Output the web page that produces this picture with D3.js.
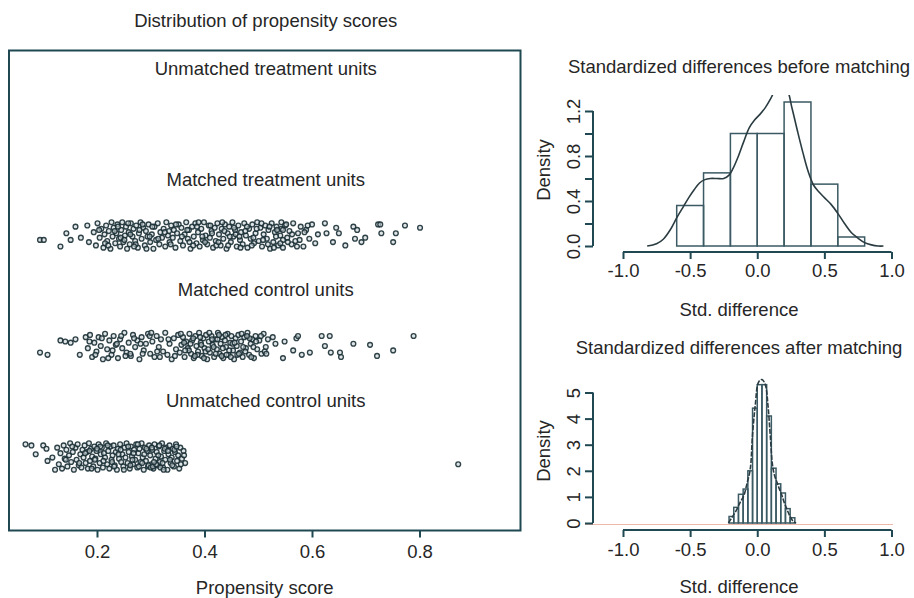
<!DOCTYPE html>
<html><head><meta charset="utf-8">
<script src="https://cdn.jsdelivr.net/npm/d3@7"></script>
<style>
body{margin:0;background:#fff;}
text{font-family:"Liberation Sans",Arial,Helvetica,sans-serif;fill:#262626;font-size:18.5px;}
</style>
</head><body>
<svg id="c" width="914" height="598"></svg>
<script>
// ---------- DATA ----------
const mainTitle = "Distribution of propensity scores";
const rowLabels = ["Unmatched control units","Matched control units","Matched treatment units","Unmatched treatment units"];
const scoreTicks = [0.2,0.4,0.6,0.8];

// [propensity score, vertical jitter in hundredths of a row]
const matchedTreatment = [
[0.094,-4],[0.101,-4],[0.132,-10],[0.143,2],[0.151,-4],[0.160,8],[0.170,-2],[0.182,9],[0.185,-6],
[0.194,3],[0.198,-9],[0.201,11],[0.205,-2],[0.208,6],[0.212,-11],[0.214,1],[0.217,9],[0.219,-5],[0.222,4],
[0.225,-12],[0.227,12],[0.229,-1],[0.231,7],[0.234,-7],[0.236,2],[0.238,10],[0.241,-3],[0.243,-10],[0.245,5],
[0.247,12],[0.249,-6],[0.252,0],[0.254,8],[0.256,-12],[0.259,3],[0.261,-8],[0.263,11],[0.266,-1],[0.268,6],
[0.271,-5],[0.273,9],[0.276,-11],[0.278,2],[0.281,12],[0.283,-3],[0.286,7],[0.289,-9],[0.291,4],[0.294,-1],
[0.296,10],[0.299,-6],[0.302,1],[0.305,-12],[0.307,8],[0.310,-4],[0.313,11],[0.316,-8],[0.318,3],[0.321,-2],
[0.324,6],[0.327,-10],[0.329,12],[0.332,0],[0.335,-6],[0.338,9],[0.341,-2],[0.343,5],[0.346,-11],[0.349,2],
[0.352,10],[0.355,-5],[0.357,7],[0.360,-9],[0.363,1],[0.366,12],[0.369,-3],[0.371,5],[0.374,-12],[0.377,8],
[0.380,-1],[0.383,11],[0.385,-7],[0.388,3],[0.391,-10],[0.394,6],[0.397,-4],[0.399,12],[0.402,0],[0.405,-8],
[0.408,9],[0.410,-2],[0.413,4],[0.416,-11],[0.419,7],[0.421,-5],[0.424,11],[0.427,1],[0.430,-9],[0.432,6],
[0.435,-3],[0.438,10],[0.441,-12],[0.443,2],[0.446,8],[0.449,-6],[0.452,12],[0.454,-1],[0.457,5],[0.460,-10],
[0.463,9],[0.466,-4],[0.468,3],[0.471,-8],[0.474,11],[0.477,0],[0.480,-11],[0.483,6],[0.486,-3],[0.489,10],
[0.492,-7],[0.495,2],[0.498,12],[0.501,-5],[0.504,7],[0.507,-10],[0.510,1],[0.513,9],[0.516,-3],[0.519,5],
[0.522,-12],[0.525,11],[0.528,-6],[0.531,3],[0.534,8],[0.537,-9],[0.541,0],[0.543,12],[0.546,-4],[0.543,6],
[0.546,-11],[0.550,9],[0.554,-2],[0.558,4],[0.562,-8],[0.565,11],[0.569,-5],[0.574,2],[0.579,8],[0.584,-10],
[0.589,5],[0.595,-3],[0.600,10],[0.606,-7],[0.611,1],
[0.215,-7],[0.233,4],[0.244,-2],[0.262,1],[0.272,-8],[0.285,10],[0.298,-1],[0.334,4],[0.372,-6],[0.386,8],
[0.396,-1],[0.411,9],[0.422,-9],[0.437,4],[0.447,-1],[0.458,1],[0.467,-11],[0.479,8],[0.491,-2],[0.506,11],
[0.518,-8],[0.533,-1],[0.546,5],[0.555,-6],[0.577,-4],[0.592,9],
[0.204,5],[0.221,-9],[0.239,8],[0.251,-4],[0.258,11],[0.269,-10],[0.279,5],[0.292,-12],[0.303,8],[0.314,-3],
[0.326,3],[0.337,-8],[0.347,10],[0.358,-1],[0.368,5],[0.379,-9],[0.389,12],[0.401,-6],[0.414,2],[0.426,-6],
[0.433,12],[0.444,-9],[0.455,7],[0.465,-1],[0.476,4],[0.488,-9],[0.497,6],[0.509,-4],[0.521,8],[0.529,-11],
[0.535,5],[0.541,-7],[0.552,10],[0.563,1],[0.572,-10],[0.586,3],
[0.624,11],[0.627,2],[0.639,-6],[0.645,7],[0.650,2],[0.662,-9],[0.677,8],[0.680,-3],[0.684,5],[0.692,-6],
[0.699,-2],[0.723,10],[0.727,10],[0.729,2],[0.751,-6],[0.756,2],[0.773,9],[0.801,7]
];
const matchedControl = [
[0.094,-6],[0.108,-8],[0.132,5],[0.141,4],[0.151,3],[0.160,6],[0.168,-8],[0.179,8],
[0.183,-2],[0.187,10],[0.191,-10],[0.195,3],[0.199,-5],[0.203,8],[0.207,0],[0.211,-12],[0.215,11],[0.219,-3],
[0.223,5],[0.227,-8],[0.231,9],[0.235,1],[0.239,-11],[0.243,6],[0.247,-2],[0.251,12],[0.255,-6],[0.259,3],
[0.263,-9],[0.267,10],[0.271,-1],[0.275,5],[0.279,-12],[0.283,8],[0.287,-4],[0.291,2],[0.295,11],[0.299,-7],
[0.303,4],[0.307,-10],[0.311,9],[0.315,-1],[0.319,6],[0.323,-5],[0.327,12],[0.331,-8],[0.335,2],[0.339,-12],
[0.343,7],[0.347,-3],[0.351,10],[0.354,-6],[0.357,1],[0.360,8],[0.363,-10],[0.366,4],[0.369,-2],[0.372,11],
[0.375,-7],[0.377,5],[0.380,-11],[0.383,9],[0.385,0],[0.388,-5],[0.390,12],[0.393,3],[0.395,-9],[0.398,7],
[0.400,-2],[0.403,10],[0.405,-12],[0.408,4],[0.410,-6],[0.413,9],[0.415,1],[0.418,-10],[0.420,6],[0.423,-3],
[0.425,12],[0.428,-7],[0.430,2],[0.433,8],[0.435,-11],[0.438,5],[0.440,-1],[0.443,11],[0.445,-8],[0.448,3],
[0.450,9],[0.453,-4],[0.455,-12],[0.458,7],[0.460,0],[0.463,10],[0.466,-6],[0.468,4],[0.471,-10],[0.474,8],
[0.477,-2],[0.480,12],[0.483,-8],[0.486,2],[0.489,6],[0.492,-11],[0.495,9],[0.498,-3],[0.502,5],[0.506,-7],
[0.510,11],[0.514,-1],
[0.362,3],[0.371,-4],[0.379,7],[0.387,-8],[0.394,1],[0.402,-5],[0.409,12],[0.417,-1],[0.424,6],[0.432,-9],
[0.439,10],[0.446,-4],[0.452,2],[0.461,-8],[0.469,11],[0.476,-5],[0.484,7],[0.491,-1],[0.229,-4],[0.245,9],
[0.262,-7],[0.281,2],[0.298,9],[0.312,-5],
[0.186,4],[0.197,-8],[0.209,7],[0.221,-11],[0.237,2],[0.253,-9],[0.269,7],[0.285,-7],[0.301,12],[0.317,-10],
[0.333,6],[0.345,-9],[0.356,11],[0.364,-4],[0.374,2],[0.382,-9],[0.392,8],[0.399,-11],[0.407,-3],[0.414,6],
[0.421,-7],[0.427,10],[0.434,-2],[0.441,-8],[0.449,-10],[0.456,3],[0.464,-7],[0.472,-1],[0.479,9],[0.487,-10],
[0.496,4],[0.505,9],[0.512,-5],[0.518,6],
[0.515,-7],[0.527,8],[0.532,2],[0.546,-11],[0.549,4],[0.565,-4],[0.571,7],[0.574,9],[0.581,-8],[0.596,-6],
[0.618,9],[0.624,0],[0.633,9],[0.635,-6],[0.652,-6],[0.654,-10],[0.677,2],[0.708,1],[0.721,-9],[0.751,-4],[0.789,9]
];
const unmatchedControl = [
[0.067,11],[0.078,10],[0.086,2],[0.100,10],[0.106,7],[0.108,-4],[0.117,-1],[0.122,-12],[0.126,8],[0.129,-7],
[0.132,3],[0.135,-11],[0.138,10],[0.140,-2],[0.143,6],[0.145,-9],[0.148,1],[0.150,12],[0.152,-5],[0.155,4],
[0.157,-12],[0.160,8],[0.162,-3],[0.164,11],[0.166,-8],[0.169,2],[0.171,-10],[0.173,6],[0.175,-1],[0.177,10],
[0.179,-6],[0.181,4],[0.183,-11],[0.185,12],[0.187,-4],[0.189,7],[0.191,0],[0.193,-9],[0.195,9],[0.197,-2],
[0.199,5],[0.201,-12],[0.203,11],[0.205,-6],[0.207,2],[0.209,8],[0.211,-10],[0.213,3],[0.215,-1],[0.217,12],
[0.219,-7],[0.221,5],[0.223,-11],[0.225,9],[0.227,-3],[0.229,1],[0.231,10],[0.233,-8],[0.235,4],[0.237,-12],
[0.239,7],[0.241,-2],[0.243,11],[0.245,-5],[0.247,2],[0.249,-9],[0.251,8],[0.253,-1],[0.255,12],[0.257,-6],
[0.259,4],[0.261,-11],[0.263,9],[0.265,0],[0.267,-7],[0.269,6],[0.271,-3],[0.273,11],[0.275,-10],[0.277,3],
[0.279,7],[0.281,-5],[0.283,12],[0.285,-1],[0.287,-12],[0.289,8],[0.291,-4],[0.293,5],[0.295,-9],[0.297,10],
[0.299,1],[0.301,-7],[0.303,6],[0.305,-11],[0.307,11],[0.309,-2],[0.311,4],[0.313,-8],[0.315,9],[0.317,-5],
[0.319,0],[0.321,12],[0.323,-10],[0.325,5],[0.327,-3],[0.329,8],[0.331,-12],[0.333,2],[0.335,10],[0.337,-6],
[0.339,-1],[0.341,7],[0.343,-9],[0.345,4],[0.347,11],[0.349,-4],[0.351,1],[0.353,-11],[0.355,8],[0.358,-2],
[0.361,5],[0.364,-6],
[0.296,-8],[0.300,-10],[0.304,-9],[0.310,-7],[0.318,-10],[0.322,-6],[0.186,5],[0.196,-3],[0.206,9],[0.228,-5],
[0.244,6],[0.262,-8],[0.268,3],[0.278,-9],[0.288,2],[0.302,8],[0.314,1],[0.326,7],[0.336,-3],[0.344,6],
[0.142,-3],[0.154,9],[0.167,-6],[0.178,3],[0.190,-11],[0.200,7],[0.212,-4],[0.220,10],[0.232,-9],[0.240,2],
[0.250,-12],[0.258,9],[0.266,-3],[0.276,11],[0.284,-6],[0.292,7],[0.306,-5],[0.316,10],[0.324,-12],[0.332,5],
[0.340,-8],[0.348,9],[0.356,-7],[0.362,1],
[0.872,-7]
];

const beforeTitle = "Standardized differences before matching";
const afterTitle = "Standardized differences after matching";
const diffTicks = [-1,-0.5,0,0.5,1];
const beforeBreaks = [-0.6,-0.4,-0.2,0,0.2,0.4,0.6,0.8];
const beforeDensity = [0.36,0.65,1.0,1.0,1.28,0.55,0.08];
const beforeCurveX = [-0.82,-0.75,-0.70,-0.65,-0.60,-0.55,-0.51,-0.47,-0.43,-0.39,-0.35,-0.30,-0.25,-0.21,-0.18,-0.14,-0.10,-0.06,-0.02,0.02,0.06,0.10,0.14,0.18,0.22,0.26,0.30,0.34,0.38,0.42,0.46,0.50,0.55,0.60,0.65,0.70,0.75,0.80,0.85,0.90,0.94];
const beforeCurveY = [0.0,0.02,0.06,0.14,0.25,0.35,0.43,0.50,0.56,0.59,0.60,0.60,0.60,0.63,0.69,0.80,0.93,1.05,1.12,1.17,1.23,1.31,1.40,1.44,1.40,1.22,1.02,0.83,0.66,0.54,0.48,0.43,0.37,0.29,0.20,0.12,0.07,0.03,0.01,0.0,0.0];
const beforeYTicks = [0,0.2,0.4,0.6,0.8,1.0,1.2];
const beforeYLabels = [0,0.4,0.8,1.2];

const afterBreaks = [-0.21,-0.175,-0.14,-0.105,-0.07,-0.035,0,0.035,0.07,0.105,0.14,0.175,0.21,0.245,0.28];
const afterDensity = [0.25,0.6,1.1,1.3,2.0,4.4,5.3,5.3,4.1,2.1,1.5,1.15,0.55,0.2];
const afterCurveX = [-0.215,-0.19,-0.164,-0.127,-0.10,-0.077,-0.052,-0.035,-0.015,0.01,0.035,0.06,0.08,0.097,0.114,0.13,0.147,0.165,0.184,0.20,0.22,0.245,0.27,0.29];
const afterCurveY = [0,0.2,0.41,0.79,1.05,1.5,2.07,3.4,4.5,5.4,5.5,5.3,4.5,3.35,2.2,1.8,1.56,1.3,1.05,0.8,0.54,0.25,0.05,0];
const afterYTicks = [0,1,2,3,4,5];

// ---------- DRAW ----------
const svg = d3.select("#c");
const AX = "#1f4852";
const BAR = "#3b5a63";

// Left panel
const L = {x0:9, x1:520.5, y0:50.5, y1:530.5};
const xL = d3.scaleLinear().domain([0.0363,0.9879]).range([L.x0,L.x1]);
const yL = d3.scaleLinear().domain([0.33,4.674]).range([L.y1,L.y0]);
const cxL = (L.x0+L.x1)/2;

svg.append("text").attr("x",cxL+1).attr("y",27).attr("text-anchor","middle").text(mainTitle);

const gx = svg.append("g").attr("transform",`translate(0,${L.y1})`)
  .call(d3.axisBottom(xL).tickValues(scoreTicks).tickSize(7).tickFormat(d=>d.toFixed(1)));
gx.select(".domain").remove();
gx.selectAll(".tick line").attr("stroke",AX).attr("stroke-width",2);
gx.selectAll(".tick text").attr("y",27).attr("dy",null).style("font-size","18.5px").attr("fill","#262626");
svg.append("text").attr("x",cxL).attr("y",594).attr("text-anchor","middle").text("Propensity score");

svg.append("rect").attr("x",L.x0).attr("y",L.y0).attr("width",L.x1-L.x0).attr("height",L.y1-L.y0)
  .attr("fill","none").attr("stroke",AX).attr("stroke-width",2);

rowLabels.forEach((lab,i)=>{
  svg.append("text").attr("x",cxL+1).attr("y",yL(i+1+0.45)).attr("text-anchor","middle").text(lab);
});

const rows = [[unmatchedControl,1],[matchedControl,2],[matchedTreatment,3]];
rows.forEach(([pts,r])=>{
  svg.append("g").selectAll("circle").data(pts).join("circle")
    .attr("cx",d=>xL(d[0])).attr("cy",d=>yL(r+d[1]/100)).attr("r",2.4)
    .attr("fill","#c9d4d6").attr("fill-opacity",0.6)
    .attr("stroke","#1a2f35").attr("stroke-width",1.35).attr("stroke-opacity",0.9);
});

// Right panels
const xR = d3.scaleLinear().domain([-1,1]).range([623,891.5]);
const regionX = [585,893];

function histPanel(opt){
  const {title,titleY,y,yTicks,yLabels,breaks,dens,cx,cy,axisY,regionTop,labelBase,xlabY,densY,fmt} = opt;
  svg.append("text").attr("x",(regionX[0]+regionX[1])/2).attr("y",titleY).attr("text-anchor","middle").text(title);
  const clipId = "clip"+titleY;
  svg.append("clipPath").attr("id",clipId).append("rect")
    .attr("x",regionX[0]).attr("y",regionTop).attr("width",regionX[1]-regionX[0]).attr("height",axisY-regionTop);
  const bins = dens.map((d,i)=>({a:breaks[i],b:breaks[i+1],d}));
  svg.append("g").selectAll("rect").data(bins).join("rect")
    .attr("x",d=>xR(d.a)).attr("width",d=>xR(d.b)-xR(d.a))
    .attr("y",d=>y(d.d)).attr("height",d=>y(0)-y(d.d))
    .attr("fill","none").attr("stroke",BAR).attr("stroke-width",1.5);
  const pts = cx.map((v,i)=>[v,cy[i]]);
  const line = d3.line().x(d=>xR(d[0])).y(d=>y(d[1])).curve(d3.curveCatmullRom.alpha(0.5));
  svg.append("path").attr("d",line(pts)).attr("clip-path",`url(#${clipId})`)
    .attr("fill","none").attr("stroke","#2a3c42").attr("stroke-width",1.6)
    .attr("stroke-dasharray",opt.dash||null);
  const ax = svg.append("g").attr("transform",`translate(0,${axisY})`)
    .call(d3.axisBottom(xR).tickValues(diffTicks).tickSize(7).tickSizeOuter(0).tickFormat(d=>d.toFixed(1)));
  ax.select(".domain").attr("stroke",AX).attr("stroke-width",2).attr("d",`M${xR(-1)},0H${xR(1)}`);
  ax.selectAll(".tick line").attr("stroke",AX).attr("stroke-width",2);
  ax.selectAll(".tick text").attr("y",labelBase-axisY).attr("dy",null).style("font-size","18.5px").attr("fill","#262626");
  svg.append("text").attr("x",(regionX[0]+regionX[1])/2).attr("y",xlabY).attr("text-anchor","middle").text("Std. difference");
  const ay = svg.append("g").attr("transform",`translate(593,0)`)
    .call(d3.axisLeft(y).tickValues(yTicks).tickSize(8).tickSizeOuter(0)
      .tickFormat(d=> yLabels.some(v=>Math.abs(v-d)<1e-9) ? fmt(d) : ""));
  ay.select(".domain").attr("stroke",AX).attr("stroke-width",2)
    .attr("d",`M0,${y(yTicks[0])}V${y(yTicks[yTicks.length-1])}`);
  ay.selectAll(".tick line").attr("stroke",AX).attr("stroke-width",2);
  ay.selectAll(".tick text").attr("x",null).attr("dy",null)
    .attr("transform","translate(-13,0) rotate(-90)").attr("text-anchor","middle")
    .style("font-size","18.5px").attr("fill","#262626");
  svg.append("text").attr("transform",`translate(550,${densY}) rotate(-90)`).attr("text-anchor","middle").text("Density");
}

const yT = d3.scaleLinear().domain([0,1.2]).range([246,111]);
histPanel({title:beforeTitle,titleY:73,y:yT,yTicks:beforeYTicks,yLabels:beforeYLabels,
  breaks:beforeBreaks,dens:beforeDensity,cx:beforeCurveX,cy:beforeCurveY,
  axisY:252,regionTop:95,labelBase:277,xlabY:316,densY:170,fmt:d=>d.toFixed(1)});

const yB = d3.scaleLinear().domain([0,5]).range([523,392.5]);
svg.append("line").attr("x1",regionX[0]).attr("x2",regionX[1]).attr("y1",yB(0)+1.5).attr("y2",yB(0)+1.5)
  .attr("stroke","#eeb9ab").attr("stroke-width",1.2);
histPanel({title:afterTitle,titleY:354,y:yB,yTicks:afterYTicks,yLabels:afterYTicks,
  breaks:afterBreaks,dens:afterDensity,cx:afterCurveX,cy:afterCurveY,
  axisY:530,regionTop:372,labelBase:556,xlabY:593,densY:451,fmt:d=>String(d),dash:"5,1.5"});
</script>
</body></html>
